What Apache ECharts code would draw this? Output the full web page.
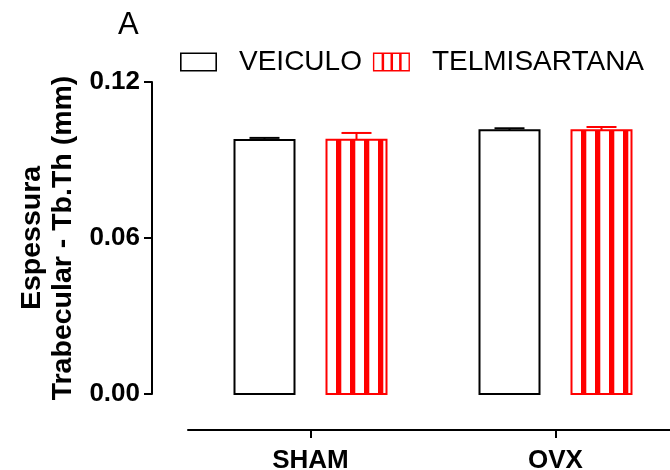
<!DOCTYPE html>
<html>
<head>
<meta charset="utf-8">
<script src="https://cdn.jsdelivr.net/npm/echarts@6/dist/echarts.min.js"></script>
<style>
  html, body { margin: 0; padding: 0; background: #fff; }
  #chart { width: 670px; height: 470px; }
</style>
</head>
<body>
<div id="chart"></div>
<script>
// Trabecular thickness (Tb.Th, mm) by group and treatment
const categories = ['SHAM', 'OVX'];
const veiculo = [0.0977, 0.1014];
const veiculoErr = [0.0008, 0.0008];
const telmisartana = [0.0978, 0.1014];
const telmisartanaErr = [0.0026, 0.0013];
const yTicks = [0, 0.06, 0.12];

const FONT = '"Liberation Sans", Arial, sans-serif';
const RED = '#ff0000';

// legend glyphs: open black box, red box with vertical stripes
const iconOpen = 'path://M0,0H37V19H0Z M1.6,1.6V17.4H35.4V1.6Z';
const iconStriped = 'path://M0,0H37V19H0Z M1.4,1.4V17.6H35.6V1.4Z' +
  ' M8.7,1H11.2V18H8.7Z M17.6,1H20.1V18H17.6Z M26.2,1H28.7V18H26.2Z';

function makeRender(side, stroke, striped) {
  return function (params, api) {
    const ci = api.value(0);
    const v = api.value(1);
    const e = api.value(2);
    const band = api.size([1, 0])[0];
    const top = api.coord([ci, v]);
    const base = api.coord([ci, 0]);
    const errTop = api.coord([ci, v + e]);
    const bw = band * 60 / 245;
    const cx = top[0] + side * band * 46 / 245;
    const x0 = cx - bw / 2;
    const h = base[1] - top[1];
    const children = [];
    children.push({
      type: 'rect',
      shape: { x: x0, y: top[1], width: bw, height: h },
      style: { fill: '#fff', stroke: stroke, lineWidth: 2 }
    });
    if (striped) {
      const period = bw * 14 / 60;
      const sw = bw * 5.3 / 60;
      for (let k = 0; k < 4; k++) {
        children.push({
          type: 'rect',
          shape: { x: x0 + bw * 9.5 / 60 + k * period, y: top[1], width: sw, height: h },
          style: { fill: stroke }
        });
      }
    }
    // one-sided error bar
    children.push({
      type: 'line',
      shape: { x1: cx, y1: top[1], x2: cx, y2: errTop[1] },
      style: { stroke: stroke, lineWidth: 2 }
    });
    children.push({
      type: 'line',
      shape: { x1: cx - bw / 4, y1: errTop[1], x2: cx + bw / 4, y2: errTop[1] },
      style: { stroke: stroke, lineWidth: 2 }
    });
    return { type: 'group', children: children };
  };
}

function rows(vals, errs) {
  return vals.map((v, i) => [i, v, errs[i]]);
}

const chart = echarts.init(document.getElementById('chart'), null, { renderer: 'canvas' });
chart.setOption({
  animation: false,
  backgroundColor: '#fff',
  title: {
    text: 'A',
    left: 118,
    top: 10,
    padding: 0,
    textStyle: { fontFamily: FONT, fontSize: 31, fontWeight: 'normal', color: '#000' }
  },
  legend: {
    left: 180,
    top: 48,
    padding: 0,
    itemWidth: 37,
    itemHeight: 19,
    itemGap: 11,
    textStyle: { fontFamily: FONT, fontSize: 28, color: '#000', padding: [0, 0, 0, 17] },
    data: [
      { name: 'VEICULO', icon: iconOpen, itemStyle: { color: '#000', borderWidth: 0 } },
      { name: 'TELMISARTANA', icon: iconStriped, itemStyle: { color: RED, borderWidth: 0 } }
    ]
  },
  grid: { left: 188, right: -8, top: 82, bottom: 76, containLabel: false, outerBoundsMode: 'none' },
  xAxis: {
    type: 'category',
    data: categories,
    offset: 36,
    axisLine: { onZero: false, lineStyle: { color: '#000', width: 2 } },
    axisTick: { show: true, interval: 0, alignWithLabel: true, length: 8, lineStyle: { color: '#000', width: 2 } },
    axisLabel: { interval: 0, fontFamily: FONT, fontSize: 26, fontWeight: 'bold', color: '#000', margin: 18 }
  },
  yAxis: {
    type: 'value',
    min: yTicks[0],
    max: yTicks[yTicks.length - 1],
    interval: yTicks[1] - yTicks[0],
    offset: 36,
    name: 'Espessura\nTrabecular - Tb.Th (mm)',
    nameLocation: 'middle',
    nameGap: 73,
    nameTextStyle: { fontFamily: FONT, fontSize: 28.5, fontWeight: 'bold', color: '#000', lineHeight: 31 },
    axisLine: { show: true, lineStyle: { color: '#000', width: 2 } },
    axisTick: { show: true, length: 8, lineStyle: { color: '#000', width: 2 } },
    splitLine: { show: false },
    axisLabel: {
      fontFamily: FONT, fontSize: 26, fontWeight: 'bold', color: '#000', margin: 12,
      formatter: v => v.toFixed(2)
    }
  },
  series: [
    {
      name: 'VEICULO',
      type: 'custom',
      renderItem: makeRender(-1, '#000', false),
      encode: { x: 0, y: 1 },
      itemStyle: { color: '#000' },
      data: rows(veiculo, veiculoErr)
    },
    {
      name: 'TELMISARTANA',
      type: 'custom',
      renderItem: makeRender(1, RED, true),
      encode: { x: 0, y: 1 },
      itemStyle: { color: RED },
      data: rows(telmisartana, telmisartanaErr)
    }
  ]
});
</script>
</body>
</html>
